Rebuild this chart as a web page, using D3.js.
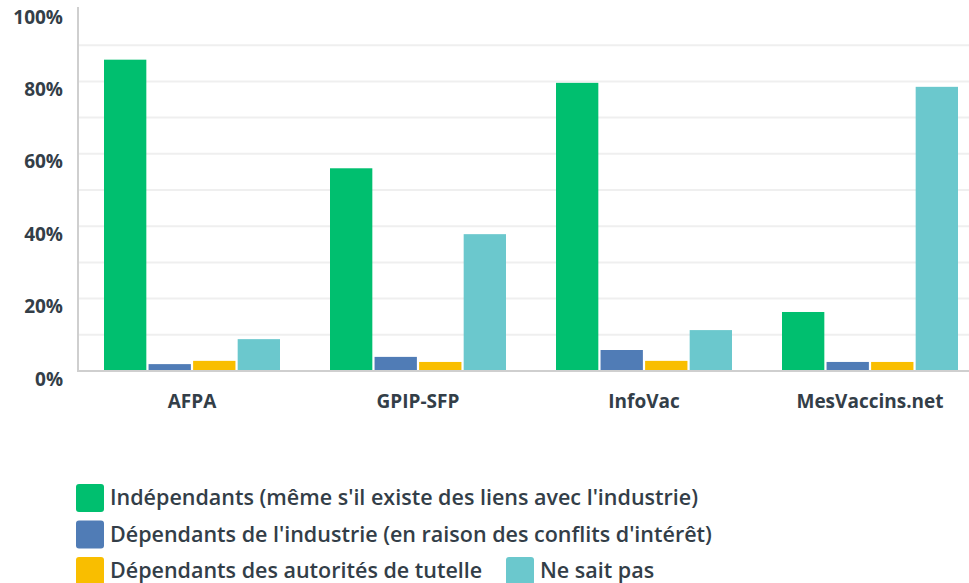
<!DOCTYPE html>
<html><head><meta charset="utf-8">
<script src="https://cdn.jsdelivr.net/npm/d3@7"></script>
<style>
html,body{margin:0;padding:0;background:#fff;}
svg{display:block;}
</style></head>
<body>
<svg id="chart" width="969" height="583"></svg>
<script>
const categories = ["AFPA", "GPIP-SFP", "InfoVac", "MesVaccins.net"];
const seriesNames = [
  "Indépendants (même s'il existe des liens avec l'industrie)",
  "Dépendants de l'industrie (en raison des conflits d'intérêt)",
  "Dépendants des autorités de tutelle",
  "Ne sait pas"
];
const independants = [86, 56, 79.6, 16.3];
const dependantsIndustrie = [1.9, 3.9, 5.8, 2.5];
const dependantsTutelle = [2.8, 2.5, 2.8, 2.5];
const neSaitPas = [8.8, 37.8, 11.3, 78.5];
const colors = ["#00bf6f", "#507cb6", "#f9be00", "#6bc8cd"];
const yTicks = [0, 20, 40, 60, 80, 100];
const gridTicks = [10, 20, 30, 40, 50, 60, 70, 80, 90];

const series = [independants, dependantsIndustrie, dependantsTutelle, neSaitPas];
const svg = d3.select("#chart");
const textColor = "#333e48";
const font = "'Open Sans', sans-serif";

const x0 = d3.scaleBand().domain(categories).range([79, 983]).paddingInner(0).paddingOuter(0);
const x1 = d3.scaleBand().domain(d3.range(4)).range([25, x0.bandwidth() - 25]).paddingInner(0.05).paddingOuter(0);
const y = d3.scaleLinear().domain([0, 100]).range([371, 9]);

// gridlines
svg.append("g").selectAll("line").data(gridTicks).join("line")
  .attr("x1", 79).attr("x2", 969)
  .attr("y1", d => y(d)).attr("y2", d => y(d))
  .attr("stroke", "#efefef").attr("stroke-width", 2);

// bars
const g = svg.append("g");
categories.forEach((c, ci) => {
  series.forEach((s, si) => {
    g.append("rect")
      .attr("x", x0(c) + x1(si))
      .attr("width", x1.bandwidth())
      .attr("y", y(s[ci]))
      .attr("height", y(0) - y(s[ci]))
      .attr("fill", colors[si]);
  });
});

// axes lines
svg.append("line").attr("x1", 78).attr("x2", 78).attr("y1", 7).attr("y2", 372)
  .attr("stroke", "#cfcfcf").attr("stroke-width", 2);
svg.append("line").attr("x1", 77).attr("x2", 969).attr("y1", y(0)).attr("y2", y(0))
  .attr("stroke", "#cfcfcf").attr("stroke-width", 2);

// y tick labels
const yAxis = d3.axisLeft(y).tickValues(yTicks).tickFormat(d => d + "%").tickSize(0).tickPadding(0);
const ya = svg.append("g").attr("transform", "translate(63,8)").call(yAxis);
ya.select(".domain").remove();
ya.selectAll("text").attr("font-family", font).attr("font-weight", 700)
  .attr("font-size", 19).attr("fill", textColor);

// x labels
const xAxis = d3.axisBottom(x0).tickSize(0).tickPadding(0);
const xa = svg.append("g").attr("transform", "translate(0,394)").call(xAxis);
xa.select(".domain").remove();
xa.selectAll("text").attr("font-family", font).attr("font-weight", 700)
  .attr("font-size", 19).attr("fill", textColor);

// legend
const legendItems = [
  {i: 0, x: 76, y: 484},
  {i: 1, x: 76, y: 520.5},
  {i: 2, x: 76, y: 557},
  {i: 3, x: 506, y: 557}
];
const lg = svg.append("g");
legendItems.forEach(it => {
  lg.append("rect").attr("x", it.x).attr("y", it.y).attr("width", 28).attr("height", 28)
    .attr("rx", 3).attr("fill", colors[it.i]);
  lg.append("text").attr("x", it.x + 34).attr("y", it.y + 21)
    .attr("font-family", font).attr("font-weight", 600).attr("font-size", 21.5)
    .attr("fill", textColor).text(seriesNames[it.i]);
});
</script>
</body></html>
